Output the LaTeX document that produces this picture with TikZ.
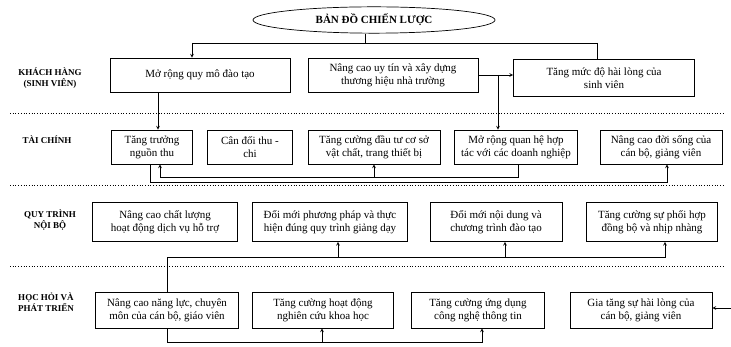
\documentclass[tikz,border=0pt]{standalone}
\usepackage{fontspec}
\setmainfont{Liberation Serif}
\usetikzlibrary{shapes.geometric}
\tikzset{
  box/.style={draw, line width=0.7pt, align=center, inner sep=1pt,
    font=\fontsize{11}{13}\selectfont},
  lane/.style={align=center, font=\bfseries\fontsize{9}{10.5}\selectfont},
  sep/.style={-, dotted, line width=0.7pt},
}
\begin{document}
\begin{tikzpicture}[->,>=stealth,x=1pt,y=-1pt,line width=0.7pt]
\useasboundingbox (0,0) rectangle (731,347);
\node[ellipse, draw, minimum width=242pt, minimum height=26pt,
  font=\bfseries\fontsize{11}{13}\selectfont] (bd) at (374,20) {BẢN ĐỒ CHIẾN LƯỢC};

\node[lane] (kh) at (50,78) {KHÁCH HÀNG\\(SINH VIÊN)};
\node[lane] (tc) at (47,140) {TÀI CHÍNH};
\node[lane] (qt) at (50,220) {QUY TRÌNH\\NỘI BỘ};
\node[lane] (hh) at (46,302) {HỌC HỎI VÀ\\PHÁT TRIỂN};
\foreach \y in {113,185,266}
  \draw[sep] (10,\y) -- (724,\y);

\node[box, minimum width=180pt, minimum height=34pt] (mrqm) at (200,75) {Mở rộng quy mô đào tạo};
\node[box, minimum width=170pt, minimum height=34pt] (nctt) at (393,75) {Nâng cao uy tín và xây dựng\\thương hiệu nhà trường};
\node[box, minimum width=181pt, minimum height=37pt] (tmdhl) at (604,78) {Tăng mức độ hài lòng của\\sinh viên};

\node[box, minimum width=81pt, minimum height=34pt] (ttnt) at (152,147) {Tăng trưởng\\nguồn thu};
\node[box, minimum width=85pt, minimum height=34pt] (cdtc) at (250,147) {Cân đối thu -\\chi};
\node[box, minimum width=132pt, minimum height=34pt] (tcdt) at (374,147) {Tăng cường đầu tư cơ sở\\vật chất, trang thiết bị};
\node[box, minimum width=123pt, minimum height=34pt] (mrqh) at (516,147) {Mở rộng quan hệ hợp\\tác với các doanh nghiệp};
\node[box, minimum width=122pt, minimum height=34pt] (ncds) at (661,147) {Nâng cao đời sống của\\cán bộ, giảng viên};

\node[box, minimum width=145pt, minimum height=39pt] (ncclhd) at (165,222) {Nâng cao chất lượng\\hoạt động dịch vụ hỗ trợ};
\node[box, minimum width=155pt, minimum height=39pt] (dmpp) at (330,222) {Đổi mới phương pháp và thực\\hiện đúng quy trình giảng dạy};
\node[box, minimum width=132pt, minimum height=39pt] (dnd) at (496,222) {Đổi mới nội dung và\\chương trình đào tạo};
\node[box, minimum width=131pt, minimum height=39pt] (tcsph) at (652,222) {Tăng cường sự phối hợp\\đồng bộ và nhịp nhàng};

\node[box, minimum width=143pt, minimum height=36pt] (ncnl) at (167,310) {Nâng cao năng lực, chuyên\\môn của cán bộ, giáo viên};
\node[box, minimum width=141pt, minimum height=36pt] (tchd) at (323,310) {Tăng cường hoạt động\\nghiên cứu khoa học};
\node[box, minimum width=133pt, minimum height=36pt] (tcud) at (478,310) {Tăng cường ứng dụng\\công nghệ thông tin};
\node[box, minimum width=142pt, minimum height=36pt] (gths) at (641,310) {Gia tăng sự hài lòng của\\cán bộ, giảng viên};

\coordinate (t0) at (365,43);
\coordinate (t1) at (192,43);
\coordinate (t2) at (597,43);
\draw[-] (t0 |- bd.south) -- (t0);
\draw[-] (t1) -- (t2);
\draw (t1) -- (t1 |- mrqm.north);
\draw[-] (t2) -- (t2 |- tmdhl.north);
\draw (nctt.east) -- (nctt.east -| tmdhl.west);
\coordinate (b1) at (498,75);
\draw (b1) -- (b1 |- mrqh.north);
\coordinate (b2) at (158,0);
\draw (b2 |- mrqm.south) -- (b2 |- ttnt.north);

\coordinate (c1) at (518,177);
\coordinate (c2) at (160,177);
\draw[-] (c1 |- mrqh.south) -- (c1) -- (c2);
\draw (c2) -- (c2 |- ttnt.south);
\draw (tcdt.south |- c1) -- (tcdt.south);
\coordinate (c3) at (150,182);
\coordinate (c4) at (667,182);
\draw (c3 |- ttnt.south) -- (c3) -- (c4) -- (c4 |- ncds.south);

\coordinate (d1) at (167,257);
\coordinate (d2) at (665,257);
\draw (d1 |- ncnl.north) -- (d1) -- (d2) -- (d2 |- tcsph.south);
\coordinate (d3) at (338,257);
\draw (d3) -- (d3 |- dmpp.south);
\coordinate (d4) at (505,257);
\draw (d4) -- (d4 |- dnd.south);

\coordinate (e1) at (167,342);
\coordinate (e2) at (482,342);
\draw (e1 |- ncnl.south) -- (e1) -- (e2) -- (e2 |- tcud.south);
\coordinate (e3) at (322,342);
\draw (e3) -- (e3 |- tchd.south);
\coordinate (g0) at (731,308);
\draw (g0) -- (g0 -| gths.east);
\end{tikzpicture}
\end{document}
